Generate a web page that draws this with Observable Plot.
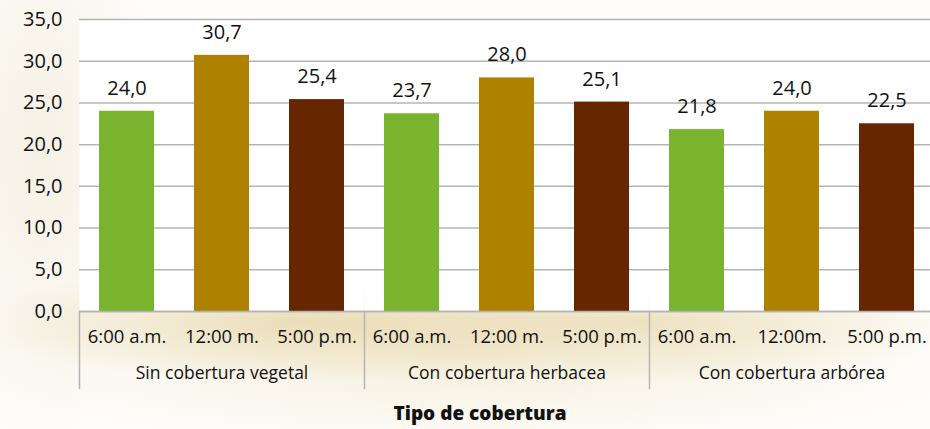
<!DOCTYPE html>
<html><head><meta charset="utf-8">
<script src="https://cdn.jsdelivr.net/npm/d3@7"></script>
<script src="https://cdn.jsdelivr.net/npm/@observablehq/plot@0.6"></script>
<style>
body{margin:0;background:#fff;}
#chart{width:930px;height:429px;position:relative;overflow:hidden;
background:
 radial-gradient(ellipse 330px 60px at 300px 322px, rgba(222,200,140,0.55), rgba(222,200,140,0) 100%),
 radial-gradient(ellipse 330px 60px at 640px 322px, rgba(222,200,140,0.45), rgba(222,200,140,0) 100%),
 radial-gradient(ellipse 520px 90px at 470px 360px, rgba(235,222,185,0.45), rgba(235,222,185,0) 100%),
 radial-gradient(ellipse 120px 300px at 40px 150px, rgba(240,232,212,0.6), rgba(240,232,212,0) 100%),
 #fefdfb;}
</style></head><body><div id="chart"></div><script>
const groups = ["Sin cobertura vegetal", "Con cobertura herbacea", "Con cobertura arbórea"];
const slots = [0, 1, 2];
const timeLabels = [
  ["6:00 a.m.", "12:00 m.", "5:00 p.m."],
  ["6:00 a.m.", "12:00 m.", "5:00 p.m."],
  ["6:00 a.m.", "12:00m.", "5:00 p.m."]
];
const sinValues = [24.0, 30.7, 25.4];
const herbValues = [23.7, 28.0, 25.1];
const arbValues = [21.8, 24.0, 22.5];
const colors = ["#7ab32e", "#ae8200", "#652600"];
const yTicks = [0, 5, 10, 15, 20, 25, 30, 35];
const axisTitle = "Tipo de cobertura";

const series = [sinValues, herbValues, arbValues];
const data = [];
groups.forEach((g, gi) => slots.forEach(s => data.push({group: g, slot: s, label: timeLabels[gi][s], value: series[gi][s]})));
const fmt = v => d3.format(".1f")(v).replace(".", ",");
const FONT = "Open Sans";

const chart = Plot.plot({
  width: 930, height: 429,
  marginTop: 19, marginBottom: 118, marginLeft: 79, marginRight: -4,
  style: {background: "transparent", fontFamily: FONT, overflow: "visible", color: "#111"},
  fx: {domain: groups, padding: 0, axis: null},
  x: {type: "band", domain: slots, paddingInner: 0.42, paddingOuter: 0.21, axis: null},
  y: {domain: [0, 35], axis: null},
  color: {domain: slots, range: colors},
  marks: [
    Plot.frame({fill: "white", stroke: null}),
    Plot.gridY(yTicks, {stroke: "#b4b4b4", strokeOpacity: 1, strokeWidth: 1.5}),
    Plot.axisY({ticks: yTicks, tickFormat: fmt, tickSize: 0, tickPadding: 17, fontSize: 20, fill: "#111", label: null}),
    Plot.barY(data, {fx: "group", x: "slot", y: "value", fill: d => d.slot}),
    Plot.ruleY([0], {stroke: "#b4b4b4", strokeWidth: 1.5}),
    Plot.text(data, {fx: "group", x: "slot", y: "value", text: d => fmt(d.value), dy: -23, fontSize: 20, fill: "#111"}),
    Plot.text(data, {fx: "group", x: "slot", y: 0, text: "label", dy: 26, fontSize: 18.5, fill: "#111"}),
    Plot.text(groups, {fx: d => d, frameAnchor: "bottom", text: d => d, dy: 67, fontSize: 17.5, fill: "#111"}),
    Plot.frame({anchor: "left", stroke: "#b4b4b4", strokeWidth: 1.5, insetTop: 292, insetBottom: -77}),
    Plot.text([axisTitle], {fx: () => groups[1], frameAnchor: "bottom", text: d => d, dx: -27, dy: 108, fontSize: 19, fontWeight: 800, fill: "#111"})
  ]
});
document.getElementById("chart").appendChild(chart);
</script></body></html>
